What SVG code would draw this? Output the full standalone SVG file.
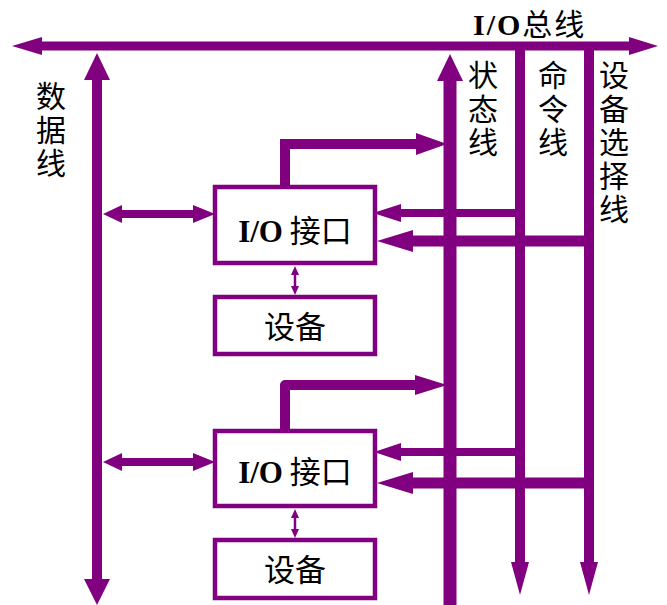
<svg xmlns="http://www.w3.org/2000/svg" width="667" height="605" viewBox="0 0 667 605">
<style>
.ln{stroke:#800080;fill:none;stroke-linecap:butt}
.hd{fill:#800080;stroke:none}
.box{fill:#fff;stroke:#800080;stroke-width:4.5}
.cj{font-family:"Noto Sans CJK SC","Noto Sans",sans-serif;font-size:30px;fill:#000}
.vt{writing-mode:vertical-rl;letter-spacing:3.5px}
.lat{font-family:"Liberation Serif","Times New Roman",serif;font-weight:bold}
.bx{font-family:"Noto Sans CJK SC","Noto Sans",sans-serif;font-size:31px;fill:#000;text-anchor:middle}
</style>
<rect width="667" height="605" fill="#fff"/>
<g id="connectors">
  <line class="ln" x1="41" y1="46" x2="630" y2="46" stroke-width="9"/>
  <polygon class="hd" points="12,46 42,37 42,55"/>
  <polygon class="hd" points="658,46 629,37 629,55"/>
  <line class="ln" x1="97" y1="79" x2="97" y2="580" stroke-width="10"/>
  <polygon class="hd" points="97,53 84,80 110,80"/>
  <polygon class="hd" points="97,605 84,579 110,579"/>
  <line class="ln" x1="450" y1="80" x2="450" y2="605" stroke-width="13"/>
  <polygon class="hd" points="450,54 437,81 463,81"/>
  <line class="ln" x1="520" y1="46" x2="520" y2="563" stroke-width="10"/>
  <polygon class="hd" points="520,595 511,562 529,562"/>
  <line class="ln" x1="589" y1="46" x2="589" y2="563" stroke-width="10"/>
  <polygon class="hd" points="589,595 580,562 598,562"/>

  <line class="ln" x1="121" y1="214" x2="194" y2="214" stroke-width="8"/>
  <polygon class="hd" points="103,214 122,205 122,223"/>
  <polygon class="hd" points="215,214 193,205 193,223"/>
  <path class="ln" d="M285,187 V144 H418" stroke-width="10" stroke-linejoin="miter"/>
  <polygon class="hd" points="447,144 416,133 416,155"/>
  <line class="ln" x1="400" y1="213" x2="520" y2="213" stroke-width="8"/>
  <polygon class="hd" points="373,213 401,204 401,222"/>
  <line class="ln" x1="412" y1="241" x2="589" y2="241" stroke-width="11"/>
  <polygon class="hd" points="377,241 413,230 413,252"/>
  <line class="ln" x1="295" y1="274" x2="295" y2="287" stroke-width="2.5"/>
  <polygon class="hd" points="295,266 291,275 299,275"/>
  <polygon class="hd" points="295,295 291,286 299,286"/>

  <line class="ln" x1="121" y1="462" x2="194" y2="462" stroke-width="8"/>
  <polygon class="hd" points="103,462 122,453 122,471"/>
  <polygon class="hd" points="215,462 193,453 193,471"/>
  <path class="ln" d="M285,431 V385 H418" stroke-width="10" stroke-linejoin="round"/>
  <polygon class="hd" points="447,385 415,375 415,395"/>
  <line class="ln" x1="400" y1="452" x2="520" y2="452" stroke-width="8"/>
  <polygon class="hd" points="374,452 401,443 401,461"/>
  <line class="ln" x1="412" y1="483" x2="589" y2="483" stroke-width="11"/>
  <polygon class="hd" points="377,483 413,472 413,494"/>
  <line class="ln" x1="295" y1="517" x2="295" y2="530" stroke-width="2.5"/>
  <polygon class="hd" points="295,509 291,518 299,518"/>
  <polygon class="hd" points="295,538 291,529 299,529"/>
</g>

<g id="interface1">
  <rect class="box" x="215" y="187" width="160" height="76"/>
  <text class="bx" x="295" y="242"><tspan class="lat">I/O</tspan> 接口</text>
</g>
<g id="device1">
  <rect class="box" x="215" y="297" width="160" height="57"/>
  <text class="bx" x="295" y="338" font-size="32">设备</text>
</g>
<g id="interface2">
  <rect class="box" x="215" y="431" width="160" height="75"/>
  <text class="bx" x="295" y="483"><tspan class="lat">I/O</tspan> 接口</text>
</g>
<g id="device2">
  <rect class="box" x="215" y="540" width="160" height="58"/>
  <text class="bx" x="295" y="581" font-size="32">设备</text>
</g>

<g id="labels">
  <text x="473" y="35" font-family="Noto Sans CJK SC, sans-serif" font-size="30" letter-spacing="2" fill="#000"><tspan class="lat">I/O</tspan>总线</text>
  <text class="cj vt" x="51" y="81">数据线</text>
  <text class="cj vt" x="483" y="60">状态线</text>
  <text class="cj vt" x="553" y="60">命令线</text>
  <text class="cj vt" x="614" y="60">设备选择线</text>
</g>
</svg>
